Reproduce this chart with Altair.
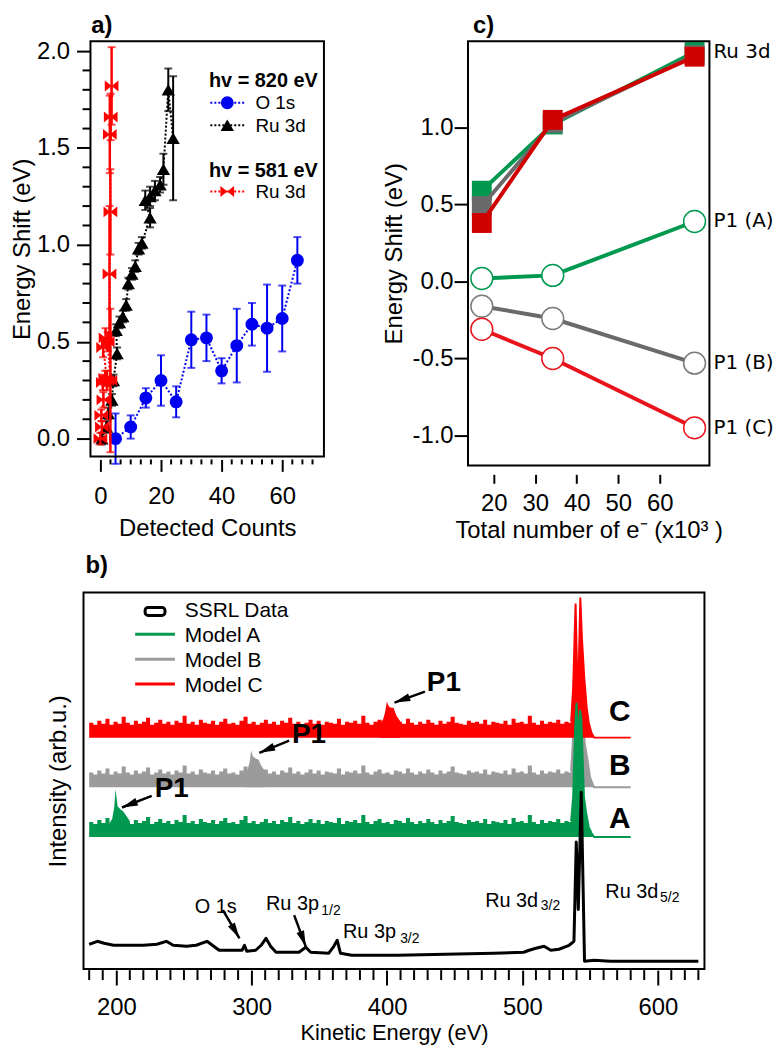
import math
import altair as alt
import pandas as pd

FONT = "Liberation Sans"

# ---------------- panel a) : energy shift vs detected counts ----------------
o1s_counts = [5, 10, 15, 20, 25, 30, 35, 40, 45, 50, 55, 60, 65]
o1s_shift = [0.00, 0.06, 0.21, 0.30, 0.19, 0.51, 0.52, 0.35, 0.48, 0.59, 0.57, 0.62, 0.92]
o1s_err = [0.13, 0.06, 0.05, 0.13, 0.08, 0.145, 0.12, 0.065, 0.19, 0.11, 0.225, 0.17, 0.12]

ru820_counts = [0.5, 2.0, 2.6, 3.8, 4.3, 5.5, 5.2, 6.3, 7.4, 8.5, 9.2, 10.4, 11.5, 12.6,
                13.7, 16.4, 14.8, 16.4, 18.0, 19.7, 20.8, 22.4, 24.0]
ru820_shift = [0.00, 0.06, 0.13, 0.20, 0.30, 0.44, 0.56, 0.60, 0.63, 0.69, 0.80, 0.85, 0.89, 0.98,
               1.01, 1.14, 1.23, 1.25, 1.28, 1.31, 1.39, 1.80, 1.55]
ru820_err = [0.03, 0.03, 0.03, 0.03, 0.03, 0.03, 0.03, 0.03, 0.03, 0.03, 0.03, 0.03, 0.03, 0.03,
             0.03, 0.05, 0.05, 0.05, 0.05, 0.04, 0.08, 0.11, 0.32]

ru581_counts = [0.0, 0.5, 0.3, 1.0, 0.8, 1.6, 2.2, 0.9, 1.7, 2.4, 3.3, 3.0, 3.3, 3.1, 3.4, 3.7]
ru581_shift = [0.00, 0.06, 0.12, 0.20, 0.29, 0.31, 0.30, 0.47, 0.52, 0.50, 0.30, 0.85, 1.17, 1.57, 1.66, 1.82]
ru581_err = [0.03, 0.03, 0.03, 0.04, 0.04, 0.04, 0.05, 0.05, 0.05, 0.05, 0.37, 0.35, 0.22, 0.20, 0.12, 0.20]

a_xticks = [0, 20, 40, 60]
a_xminor = [round(20 / 6 * k, 3) for k in range(0, 22) if k % 6 != 0]
a_yticks = [0.0, 0.5, 1.0, 1.5, 2.0]
a_yminor = [round(0.1 * k, 1) for k in range(0, 21) if k % 5 != 0]

# ---------------- panel c) : shift vs total number of electrons ----------------
ne_total = [17.1, 34.2, 68.4]
ru3d_A = [0.59, 1.02, 1.49]
ru3d_B = [0.49, 1.03, 1.47]
ru3d_C = [0.38, 1.05, 1.46]
p1_A = [0.02, 0.04, 0.39]
p1_B = [-0.16, -0.24, -0.53]
p1_C = [-0.31, -0.50, -0.95]
c_labels = ["Ru 3d", "P1 (A)", "P1 (B)", "P1 (C)"]
c_xticks = [20, 30, 40, 50, 60]
c_yticks = [-1.0, -0.5, 0.0, 0.5, 1.0]

# ---------------- panel b) : spectra ----------------
ssrl_ev = [180, 186, 191, 198, 208, 220, 230, 237, 242, 252, 259, 267, 271, 276, 286, 293, 294.7,
           296.4, 303, 307, 310.6, 314, 318, 328, 335, 340, 343.6, 357, 360.7, 363.2, 365.6, 374,
           408, 443, 479, 501, 505, 510, 516, 521, 527, 534.5, 538.1, 539.8, 541.3, 543.5, 545.9,
           553, 565, 630]
ssrl_int = [25, 28, 26, 24, 24, 24, 25, 28, 24, 23, 24, 28, 24, 19, 19, 19, 24,
            18, 19, 24, 31, 23, 17, 17, 17, 22, 17, 16, 23, 29, 16, 14,
            14, 15, 16, 17, 19, 21, 23, 19, 20, 24, 28, 128, 60, 178, 8,
            9, 8, 8]

band_ev = list(range(180, 540, 3))
band_noise = [
    15, 13, 17, 14, 19, 13, 16, 14, 21, 15, 13, 17, 14, 16, 20, 13, 15, 18, 14, 16,
    13, 17, 15, 22, 14, 16, 13, 18, 15, 14, 17, 13, 16, 19, 14, 15, 13, 17, 21, 14,
    16, 13, 15, 18, 14, 16, 13, 17, 15, 20, 14, 16, 13, 15, 18, 14, 17, 13, 16, 15,
    14, 19, 13, 16, 15, 17, 14, 22, 15, 13, 16, 18, 14, 15, 13, 17, 16, 14, 19, 15,
    13, 16, 14, 18, 15, 13, 17, 14, 16, 21, 15, 14, 13, 17, 15, 16, 14, 18, 13, 16,
    15, 14, 17, 13, 19, 15, 16, 14, 22, 15, 13, 17, 14, 16, 15, 18, 14, 16, 15, 17]
model_names = ["Model A", "Model B", "Model C"]
model_offset = [133, 183, 233]

p1A_ev = [195, 197, 198.5, 199.5, 201, 203, 205, 207, 210]
p1A_h = [14, 18, 30, 48, 31, 28, 26, 22, 16]
p1B_ev = [295, 297, 298.5, 299.6, 301, 303, 305, 307, 310]
p1B_h = [14, 18, 25, 37, 31, 29, 28, 22, 16]
p1C_ev = [395, 397, 398.5, 399.9, 401.5, 403, 404.8, 407, 410]
p1C_h = [14, 18, 25, 36, 31, 30, 30, 22, 16]

pkA_ev = [536, 537.5, 539, 540, 541.2, 542.5, 543.5, 544.5, 545.5, 547, 549, 551, 553, 580]
pkA_h = [16, 40, 110, 135, 95, 128, 120, 80, 40, 25, 10, 4, 0, 0]
pkB_ev = [536, 537.5, 539.3, 540.5, 541.5, 542.8, 544, 546, 548, 550, 552, 553, 580]
pkB_h = [16, 50, 130, 70, 70, 135, 95, 45, 28, 10, 3, 0, 0]
pkC_ev = [536, 537.5, 539.3, 540.5, 541.5, 542.8, 544, 545.7, 547.5, 549, 551, 553, 580]
pkC_h = [16, 50, 135, 60, 60, 141, 100, 60, 30, 15, 5, 0, 0]

trace_letters = ["A", "B", "C"]
letter_ev = [572, 572, 572]
letter_val = [151, 204, 259]

p1_text_ev = [240.9, 342.4, 442.0]
p1_text_val = [181, 236, 288]

arrow_tail_ev = [226.2, 327.7, 428.0, 278.8, 331.4]
arrow_tail_val = [174.3, 230.0, 279.3, 59.3, 54.3]
arrow_tip_ev = [204.2, 305.7, 405.5, 291.0, 340.0]
arrow_tip_val = [162.7, 217.7, 268.3, 31.0, 22.7]

peak_names = ["O 1s", "Ru 3p", "Ru 3p", "Ru 3d", "Ru 3d"]
peak_name_ev = [258.0, 310.6, 367.5, 472.5, 561.3]
peak_name_val = [56.0, 59.3, 31.0, 62.7, 71.7]
peak_sub = ["1/2", "3/2", "3/2", "5/2"]
peak_sub_ev = [351.5, 409.7, 513.6, 601.7]
peak_sub_val = [54.3, 26.0, 59.3, 67.7]

b_xticks = [200, 300, 400, 500, 600]
b_xminor = [v for v in range(180, 640, 10) if v % 100 != 0]

# ---------------- styling ----------------
BLUE = "#0000f0"
RED = "#ff0000"
GREEN = "#00994f"
GRAY_B = "#9b9b9b"
GRAY_C = "#6a6a6a"
DKRED = "#d00000"
BOWTIE = "M-1,-0.8L0,0L-1,0.8ZM1,-0.8L0,0L1,0.8Z"
HEAD = "M0,0L0.5,2L-0.5,2Z"


def one():
    return alt.Data(values=[{"k": 0}])


def vtext(text, x, y, size, weight="normal", align="left", baseline="alphabetic", font=FONT):
    return alt.Chart(one()).mark_text(text=text, fontSize=size, fontWeight=weight, align=align,
                                      baseline=baseline, font=font, color="black").encode(
        x=alt.value(x), y=alt.value(y))


def vrule(x, y, x2, y2, color, width, dash=None):
    kw = dict(color=color, strokeWidth=width)
    if dash:
        kw["strokeDash"] = dash
    return alt.Chart(one()).mark_rule(**kw).encode(
        x=alt.value(x), x2=alt.value(x2), y=alt.value(y), y2=alt.value(y2))


def vpoint(x, y, shape, size, color):
    return alt.Chart(one()).mark_point(shape=shape, size=size, filled=True, color=color,
                                       opacity=1).encode(x=alt.value(x), y=alt.value(y))


def frame(x0, x1, h):
    return alt.Chart(one()).mark_rect(fill="transparent", stroke="black", strokeWidth=2).encode(
        x=alt.value(x0), x2=alt.value(x1), y=alt.value(0), y2=alt.value(h))


axis_common = dict(domain=False, grid=False, tickWidth=2, tickColor="black",
                   labelFont=FONT, labelColor="black", labelFlush=False,
                   titleFont=FONT, titleFontWeight="normal", titleColor="black",
                   titleBaseline="alphabetic")

# ================= panel a =================
A_W, A_H = 242, 418
A_XS = alt.Scale(domain=[-3.28, 73.77], range=[7, 242], nice=False, zero=False)
A_YS = alt.Scale(domain=[-0.092, 2.051], nice=False, zero=False)
ax_a_x = alt.Axis(values=a_xticks, tickSize=12, offset=3, labelPadding=13, labelFontSize=24,
                  title="Detected Counts", titleFontSize=24, titleY=77, **axis_common)
ax_a_y = alt.Axis(values=a_yticks, format=".1f", tickSize=14, offset=-7, labelPadding=7,
                  labelFontSize=24, title="Energy Shift (eV)", titleFontSize=24, titleX=-61.5,
                  **axis_common)


def XA(f):
    return alt.X(f, type="quantitative", scale=A_XS, axis=ax_a_x)


def YA(f):
    return alt.Y(f, type="quantitative", scale=A_YS, axis=ax_a_y)


def series_a(counts, shift, err, color, shape, size, ewidth=2):
    df = pd.DataFrame({"counts": counts, "shift": shift, "err": err, "idx": list(range(len(counts)))})
    df["lo"] = df["shift"] - df["err"]
    df["hi"] = df["shift"] + df["err"]
    base = alt.Chart(df)
    bars = base.mark_rule(color=color, strokeWidth=ewidth).encode(
        x=XA("counts"), y=YA("lo"), y2=alt.Y2("hi"))
    cap_lo = base.mark_tick(color=color, orient="horizontal", size=8, thickness=2).encode(
        x=XA("counts"), y=YA("lo"))
    cap_hi = base.mark_tick(color=color, orient="horizontal", size=8, thickness=2).encode(
        x=XA("counts"), y=YA("hi"))
    line = base.mark_line(color=color, strokeWidth=2, strokeDash=[2, 2]).encode(
        x=XA("counts"), y=YA("shift"), order=alt.Order("idx:Q"))
    pts = base.mark_point(shape=shape, size=size, filled=True, color=color, opacity=1).encode(
        x=XA("counts"), y=YA("shift"))
    return [bars, cap_lo, cap_hi, line, pts]


a_minor_x = alt.Chart(pd.DataFrame({"v": a_xminor})).mark_rule(color="black", strokeWidth=2).encode(
    x=XA("v"), y=alt.value(A_H + 3), y2=alt.value(A_H + 8))
a_minor_y = alt.Chart(pd.DataFrame({"v": a_yminor})).mark_rule(color="black", strokeWidth=2).encode(
    y=YA("v"), x=alt.value(-1), x2=alt.value(7))
anchor = alt.Chart(one()).mark_rule(opacity=0, strokeWidth=0.1, color="white").encode(
    x=alt.value(-75), y=alt.value(-29), y2=alt.value(-28))

layers_a = [anchor, a_minor_x, a_minor_y]
layers_a += series_a(o1s_counts, o1s_shift, o1s_err, BLUE, "circle", 170)
layers_a += series_a(ru820_counts, ru820_shift, ru820_err, "black", "triangle-up", 180)
layers_a += series_a(ru581_counts, ru581_shift, ru581_err, RED, BOWTIE, 190, ewidth=2.5)
layers_a += [
    vtext("hv = 820 eV", 126.3, 46.3, 20, "bold"),
    vrule(127.7, 62, 163.7, 62, BLUE, 2, [2, 2]), vpoint(144.7, 62, "circle", 170, BLUE),
    vtext("O 1s", 173, 68, 19),
    vrule(127.7, 84.7, 163.7, 84.7, "black", 2, [2, 2]), vpoint(144.7, 84.7, "triangle-up", 180, "black"),
    vtext("Ru 3d", 173, 91.3, 19),
    vtext("hv = 581 eV", 126.3, 136.3, 20, "bold"),
    vrule(127.7, 151.3, 163.7, 151.3, RED, 2, [2, 2]), vpoint(144.7, 151.3, BOWTIE, 190, RED),
    vtext("Ru 3d", 173, 158, 19),
    frame(7, A_W, A_H),
    vtext("a)", 7.7, -8.5, 24, "bold"),
]
pa = alt.layer(*layers_a).properties(width=A_W, height=A_H)

# ================= panel c =================
C_W, C_H = 243, 427
C_XS = alt.Scale(domain=[13.77, 71.98], nice=False, zero=False)
C_YS = alt.Scale(domain=[-1.194, 1.561], nice=False, zero=False)
ax_c_x = alt.Axis(values=c_xticks, tickSize=9, offset=9, labelPadding=8, labelFontSize=24,
                  title="Total number of e\u207b (x10\u00b3 )", titleFontSize=24, titleY=64,
                  **axis_common)
ax_c_y = alt.Axis(values=c_yticks, tickSize=14, labelPadding=1, labelFontSize=24,
                  labelExpr="(datum.value < 0 ? '-' : '') + format(abs(datum.value), '.1f')",
                  title="Energy Shift (eV)", titleFontSize=24, titleX=-67, **axis_common)


def XC(f):
    return alt.X(f, type="quantitative", scale=C_XS, axis=ax_c_x)


def YC(f):
    return alt.Y(f, type="quantitative", scale=C_YS, axis=ax_c_y)


layers_c = []
for vals, col in [(ru3d_A, GREEN), (ru3d_B, GRAY_C), (ru3d_C, DKRED)]:
    b = alt.Chart(pd.DataFrame({"ne": ne_total, "shift": vals}))
    layers_c.append(b.mark_line(color=col, strokeWidth=4).encode(x=XC("ne"), y=YC("shift")))
    layers_c.append(b.mark_point(shape="square", size=400, filled=True, color=col, opacity=1).encode(
        x=XC("ne"), y=YC("shift")))
p1_sets = [(p1_A, GREEN, GREEN), (p1_B, GRAY_C, "#7a7a7a"), (p1_C, "#e8141c", "#e8141c")]
for vals, col, _ in p1_sets:
    b = alt.Chart(pd.DataFrame({"ne": ne_total, "shift": vals}))
    layers_c.append(b.mark_line(color=col, strokeWidth=4).encode(x=XC("ne"), y=YC("shift")))
for vals, _, scol in p1_sets:
    b = alt.Chart(pd.DataFrame({"ne": ne_total, "shift": vals}))
    layers_c.append(b.mark_point(shape="circle", size=484, filled=True, fill="white",
                                 stroke=scol, strokeWidth=1.5, opacity=1).encode(
        x=XC("ne"), y=YC("shift")))
lab_df = pd.DataFrame({"label": c_labels, "ne": [ne_total[-1]] * 4,
                       "shift": [ru3d_A[-1], p1_A[-1], p1_B[-1], p1_C[-1]]})
layers_c.append(alt.Chart(lab_df).mark_text(align="left", baseline="middle", dx=19, fontSize=20,
                                            font="DejaVu Sans", color="black").encode(
    x=XC("ne"), y=YC("shift"), text="label:N"))
layers_c += [frame(0, C_W, C_H), vtext("c)", 5, -8.5, 24, "bold")]
pc = alt.layer(*layers_c).properties(width=C_W, height=C_H)

# ================= panel b =================
B_W, B_H = 625, 379
B_LAYOUT_W = 242   # width used by the concat layout (same column as panel a)
B_XDOM = [175.8, 634.5]
B_YDOM = [0, 379]
B_XS = alt.Scale(domain=B_XDOM, range=[0, B_W], nice=False, zero=False)
B_YS = alt.Scale(domain=B_YDOM, nice=False, zero=False)
ax_b_x = alt.Axis(values=b_xticks, tickSize=15, offset=1, labelPadding=11, labelFontSize=24,
                  title="Kinetic Energy (eV)", titleFontSize=22, titleY=69.5, **axis_common)
ax_b_y = alt.Axis(ticks=False, labels=False, title="Intensity (arb.u.)", titleFontSize=24,
                  titleX=-18, **axis_common)


def XB(f):
    return alt.X(f, type="quantitative", scale=B_XS, axis=ax_b_x)


def YB(f):
    return alt.Y(f, type="quantitative", scale=B_YS, axis=ax_b_y)


layers_b = []
layers_b.append(alt.Chart(pd.DataFrame({"v": b_xminor})).mark_rule(color="black", strokeWidth=2).encode(
    x=XB("v"), y=alt.value(B_H + 1), y2=alt.value(B_H + 11)))

models = {
    "Model A": (model_offset[0], GREEN, p1A_ev, p1A_h, pkA_ev, pkA_h),
    "Model B": (model_offset[1], GRAY_B, p1B_ev, p1B_h, pkB_ev, pkB_h),
    "Model C": (model_offset[2], RED, p1C_ev, p1C_h, pkC_ev, pkC_h),
}
for name in ["Model B", "Model C", "Model A"]:
    base, col, pev, ph, kev, kh = models[name]
    band = pd.DataFrame({"ev": band_ev, "top": [base + n for n in band_noise], "bot": [base] * len(band_ev)})
    layers_b.append(alt.Chart(band).mark_area(color=col, interpolate="step-after", opacity=1).encode(
        x=XB("ev"), y=YB("top"), y2=alt.Y2("bot")))
    p1 = pd.DataFrame({"ev": pev, "top": [base + h for h in ph], "bot": [base] * len(pev)})
    layers_b.append(alt.Chart(p1).mark_area(color=col, opacity=1).encode(
        x=XB("ev"), y=YB("top"), y2=alt.Y2("bot")))
    pk = pd.DataFrame({"ev": kev, "top": [base + h for h in kh], "bot": [base] * len(kev)})
    layers_b.append(alt.Chart(pk).mark_area(color=col, opacity=1).encode(
        x=XB("ev"), y=YB("top"), y2=alt.Y2("bot")))
    layers_b.append(alt.Chart(pk).mark_line(color=col, strokeWidth=2).encode(
        x=XB("ev"), y=YB("top")))

ssrl = pd.DataFrame({"ev": ssrl_ev, "val": ssrl_int})
layers_b.append(alt.Chart(ssrl).mark_line(color="black", strokeWidth=3, strokeJoin="round").encode(
    x=XB("ev"), y=YB("val")))

letters = pd.DataFrame({"t": trace_letters, "ev": letter_ev, "val": letter_val})
layers_b.append(alt.Chart(letters).mark_text(fontSize=30, fontWeight="bold", font=FONT, align="center",
                                             baseline="middle", color="black").encode(
    x=XB("ev"), y=YB("val"), text="t:N"))
p1t = pd.DataFrame({"t": ["P1"] * 3, "ev": p1_text_ev, "val": p1_text_val})
layers_b.append(alt.Chart(p1t).mark_text(fontSize=28, fontWeight="bold", font=FONT, align="center",
                                         baseline="middle", color="black").encode(
    x=XB("ev"), y=YB("val"), text="t:N"))

px_ev = B_W / (B_XDOM[1] - B_XDOM[0])
px_val = B_H / (B_YDOM[1] - B_YDOM[0])
angles = []
for te, tv, pe, pv in zip(arrow_tail_ev, arrow_tail_val, arrow_tip_ev, arrow_tip_val):
    dx = (pe - te) * px_ev
    dy = -(pv - tv) * px_val
    angles.append((math.degrees(math.atan2(dx, -dy)) + 360) % 360)
arrows = pd.DataFrame({"te": arrow_tail_ev, "tv": arrow_tail_val, "pe": arrow_tip_ev,
                       "pv": arrow_tip_val, "ang": angles})
layers_b.append(alt.Chart(arrows).mark_rule(color="black", strokeWidth=2.5).encode(
    x=XB("te"), y=YB("tv"), x2=alt.X2("pe"), y2=alt.Y2("pv")))
layers_b.append(alt.Chart(arrows).mark_point(shape=HEAD, size=256, filled=True, color="black",
                                             opacity=1).encode(
    x=XB("pe"), y=YB("pv"), angle=alt.Angle("ang:Q", scale=None)))

names = pd.DataFrame({"t": peak_names, "ev": peak_name_ev, "val": peak_name_val})
layers_b.append(alt.Chart(names).mark_text(fontSize=20, font=FONT, align="left", baseline="alphabetic",
                                           color="black").encode(
    x=XB("ev"), y=YB("val"), text="t:N"))
subs = pd.DataFrame({"t": peak_sub, "ev": peak_sub_ev, "val": peak_sub_val})
layers_b.append(alt.Chart(subs).mark_text(fontSize=14, font=FONT, align="left", baseline="alphabetic",
                                          color="black").encode(
    x=XB("ev"), y=YB("val"), text="t:N"))

layers_b += [
    alt.Chart(one()).mark_rect(cornerRadius=3, fill="white", stroke="black", strokeWidth=3).encode(
        x=alt.value(62), x2=alt.value(82), y=alt.value(15), y2=alt.value(23)),
    vtext("SSRL Data", 102, 25, 21),
    vrule(52, 42, 92, 42, GREEN, 3), vtext("Model A", 102, 50, 21),
    vrule(52, 67, 92, 67, GRAY_B, 3), vtext("Model B", 102, 75, 21),
    vrule(52, 92, 92, 92, RED, 3), vtext("Model C", 102, 100, 21),
    frame(0, B_W, B_H),
    vtext("b)", 2, -20, 24, "bold"),
]
pb = alt.layer(*layers_b).properties(width=B_LAYOUT_W, height=B_H)

chart = alt.concat(pa, pc, pb, columns=2, spacing={"row": 128, "column": 145},
                   bounds="flush").properties(
    padding={"left": 0, "top": 0, "right": 0, "bottom": -1.5}, background="white").configure_view(
    stroke="transparent").configure_text(font=FONT)

chart.save("out.html", embed_options={"renderer": "svg", "actions": False})
